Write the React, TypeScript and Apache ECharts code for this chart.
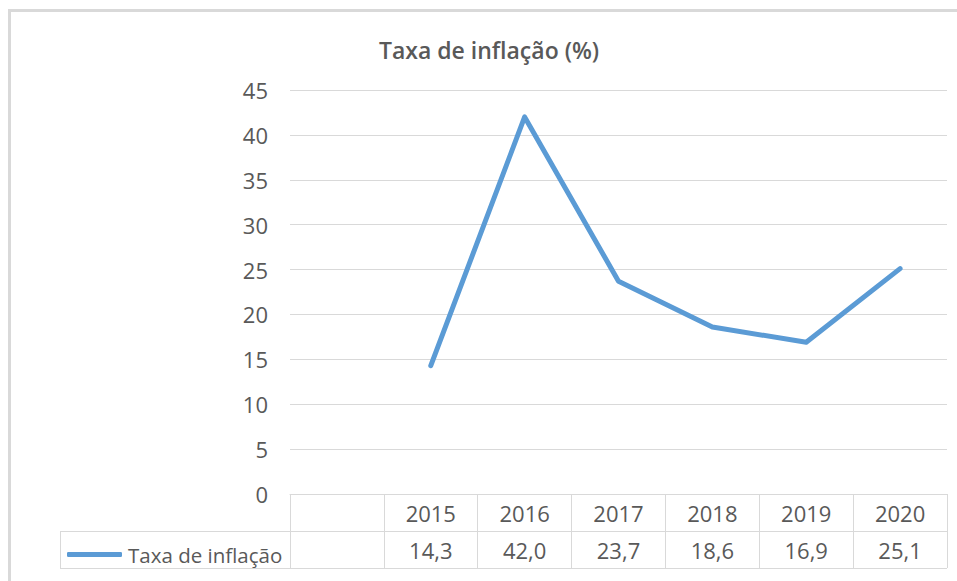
import React, { useEffect, useRef } from "react";
import * as echarts from "echarts";

const categories = ["", "2015", "2016", "2017", "2018", "2019", "2020"];
const inflation: (number | null)[] = [null, 14.3, 42.0, 23.7, 18.6, 16.9, 25.1];
const yTicks = { min: 0, max: 45, interval: 5 };
const seriesName = "Taxa de inflação";
const titleText = "Taxa de inflação (%)";

const valueLabels = inflation.map((v) => (v == null ? "" : v.toFixed(1).replace(".", ",")));

const TEXT = "#595959";
const GRID = "#d9d9d9";
const BLUE = "#5b9bd5";
const FONT = "'Open Sans', 'Noto Sans', sans-serif";

export default function App() {
  const ref = useRef<HTMLDivElement>(null);
  useEffect(() => {
    if (!ref.current) return;
    const chart = echarts.init(ref.current, undefined, { renderer: "svg" });
    chart.setOption({
      animation: false,
      backgroundColor: "#ffffff",
      textStyle: { fontFamily: FONT },
      title: {
        text: titleText,
        left: 484,
        top: 33,
        textAlign: "center",
        textStyle: { fontFamily: FONT, fontSize: 23, fontWeight: 600, color: TEXT },
      },
      legend: {
        left: 62,
        top: 539,
        itemWidth: 55,
        itemHeight: 5,
        icon: "roundRect",
        data: [{ name: seriesName, icon: "roundRect", itemStyle: { color: BLUE } }],
        textStyle: { fontFamily: FONT, fontSize: 20.5, color: TEXT, padding: [0, 0, 0, 1] },
      },
      grid: { left: 290, right: 10, top: 90, bottom: 87, containLabel: false },
      xAxis: [
        {
          type: "category",
          data: categories,
          boundaryGap: true,
          axisLine: { show: true, lineStyle: { color: GRID, width: 1 } },
          axisTick: { show: true, length: 74, interval: 0, lineStyle: { color: GRID, width: 1 } },
          axisLabel: {
            interval: 0,
            margin: 19,
            verticalAlign: "middle",
            fontFamily: FONT,
            fontSize: 22,
            color: TEXT,
          },
        },
        {
          type: "category",
          position: "bottom",
          offset: 37,
          data: valueLabels,
          boundaryGap: true,
          axisLine: { show: false },
          axisTick: { show: false },
          axisLabel: {
            interval: 0,
            margin: 19,
            verticalAlign: "middle",
            fontFamily: FONT,
            fontSize: 22,
            color: TEXT,
          },
        },
      ],
      yAxis: {
        type: "value",
        min: yTicks.min,
        max: yTicks.max,
        interval: yTicks.interval,
        axisLine: { show: false },
        axisTick: { show: false },
        splitLine: { lineStyle: { color: GRID, width: 1 } },
        axisLabel: { margin: 22, fontFamily: FONT, fontSize: 22, color: TEXT },
      },
      series: [
        {
          name: seriesName,
          type: "line",
          xAxisIndex: 0,
          data: inflation,
          symbol: "none",
          lineStyle: { color: BLUE, width: 5, cap: "round", join: "round" },
          itemStyle: { color: BLUE },
        },
      ],
      graphic: [
        {
          type: "rect",
          shape: { x: 9.5, y: 10.5, width: 1200, height: 1200 },
          style: { fill: "none", stroke: GRID, lineWidth: 3 },
          silent: true,
        },
        {
          type: "line",
          shape: { x1: 60, y1: 531.5, x2: 947, y2: 531.5 },
          style: { stroke: GRID, lineWidth: 1 },
          silent: true,
        },
        {
          type: "line",
          shape: { x1: 60, y1: 568.5, x2: 947, y2: 568.5 },
          style: { stroke: GRID, lineWidth: 1 },
          silent: true,
        },
        {
          type: "line",
          shape: { x1: 60.5, y1: 531, x2: 60.5, y2: 569 },
          style: { stroke: GRID, lineWidth: 1 },
          silent: true,
        },
      ],
    });
    return () => chart.dispose();
  }, []);
  return (
    <div
      ref={ref}
      style={{ position: "fixed", left: 0, top: 0, width: 957, height: 581, background: "#fff" }}
    />
  );
}
